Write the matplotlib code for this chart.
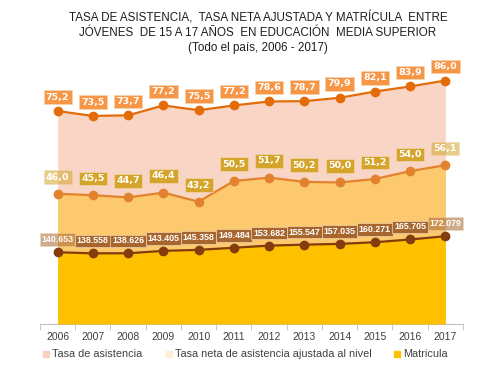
import matplotlib
matplotlib.use("Agg")
import matplotlib.pyplot as plt
from matplotlib.patches import Rectangle

anios = ['2006', '2007', '2008', '2009', '2010', '2011', '2012', '2013', '2014', '2015', '2016', '2017']
asistencia = [75.2, 73.5, 73.7, 77.2, 75.5, 77.2, 78.6, 78.7, 79.9, 82.1, 83.9, 86.0]
neta = [46.0, 45.5, 44.7, 46.4, 43.2, 50.5, 51.7, 50.2, 50.0, 51.2, 54.0, 56.1]
matricula = [140653, 138558, 138626, 143405, 145358, 149484, 153682, 155547, 157035, 160271, 165705, 172079]

plt.rcParams['font.family'] = ['Liberation Sans', 'DejaVu Sans']

fig = plt.figure(figsize=(5, 3.75), dpi=100)
ax = fig.add_axes([0.08, 0.136, 0.846, 0.755])
ax2 = ax.twinx()
x = list(range(len(anios)))

ax.fill_between(x, asistencia, color='#F9D5C5', lw=0, zorder=1)
ax.fill_between(x, neta, color='#FCC96E', lw=0, zorder=2)
ax.plot(x, asistencia, color='#E36C09', lw=1.6, marker='o', ms=6, zorder=5)
ax.plot(x, neta, color='#E3822E', lw=1.6, marker='o', ms=6, zorder=5)

ax2.fill_between(x, matricula, color='#FFC000', lw=0, zorder=1)
ax2.plot(x, matricula, color='#843C0C', lw=1.6, marker='o', ms=6, zorder=5)

def etiqueta(axis, xi, yi, texto, color, alpha, dy, size, fam, pad):
    axis.annotate(texto, (xi, yi), xytext=(0, dy), textcoords='offset points',
                  ha='center', va='center', color='white', fontsize=size,
                  fontweight='bold', family=fam, zorder=10,
                  bbox=dict(boxstyle=f'square,pad={pad}', fc=color, ec='#F2D3B0',
                            lw=0.5, alpha=alpha))

n = len(anios)
for i in range(n):
    etiqueta(ax, i, asistencia[i], f'{asistencia[i]:.1f}'.replace('.', ','),
             '#F79646', 1, 10, 6.8, 'DejaVu Sans', 0.25)
    a = 0.55 if i in (0, n - 1) else 1
    etiqueta(ax, i, neta[i], f'{neta[i]:.1f}'.replace('.', ','),
             '#D4A52A', a, 12, 6.8, 'DejaVu Sans', 0.25)
    etiqueta(ax2, i, matricula[i], f'{matricula[i]:,}'.replace(',', '.'),
             '#A8662F', a, 9, 6.4, 'Liberation Sans', 0.2)

ax.set_xlim(-0.5, 11.5)
ax.set_ylim(0, 100)
ax2.set_ylim(0, 555000)
for a in (ax, ax2):
    a.set_yticks([])
    for s in ['top', 'right', 'left']:
        a.spines[s].set_visible(False)
ax2.spines['bottom'].set_visible(False)
ax.spines['bottom'].set_color('#BFBFBF')
ax.set_xticks(x)
ax.set_xticklabels(anios, fontsize=7.5, color='#404040')
ax.tick_params(axis='x', length=0, pad=6)
ax.set_xticks([i - 0.5 for i in range(n + 1)], minor=True)
ax.tick_params(axis='x', which='minor', length=4, color='#BFBFBF')

titulo = ['TASA DE ASISTENCIA,  TASA NETA AJUSTADA Y MATRÍCULA  ENTRE',
          'JÓVENES  DE 15 A 17 AÑOS  EN EDUCACIÓN  MEDIA SUPERIOR',
          '(Todo el país, 2006 - 2017)']
for k, linea in enumerate(titulo):
    fig.text(0.516, 0.952 - k * 0.04, linea, ha='center', va='center',
             fontsize=8.4, color='#1E1E1E')

# leyenda inferior
colores_ley = ['#F9D0BF', '#FDEFD6', '#FFC000']
nombres = ['Tasa de asistencia', 'Tasa neta de asistencia ajustada al nivel', 'Matricula']
pos_x = [43, 166, 394]
for px, c, nom in zip(pos_x, colores_ley, nombres):
    fig.patches.append(Rectangle((px / 500, 1 - 357 / 375), 6 / 500, 6 / 375,
                                 transform=fig.transFigure, color=c))
    fig.text((px + 9) / 500, 1 - 354 / 375, nom, ha='left', va='center',
             fontsize=7.8, color='#404040')

fig.savefig('out.png', dpi=100)
